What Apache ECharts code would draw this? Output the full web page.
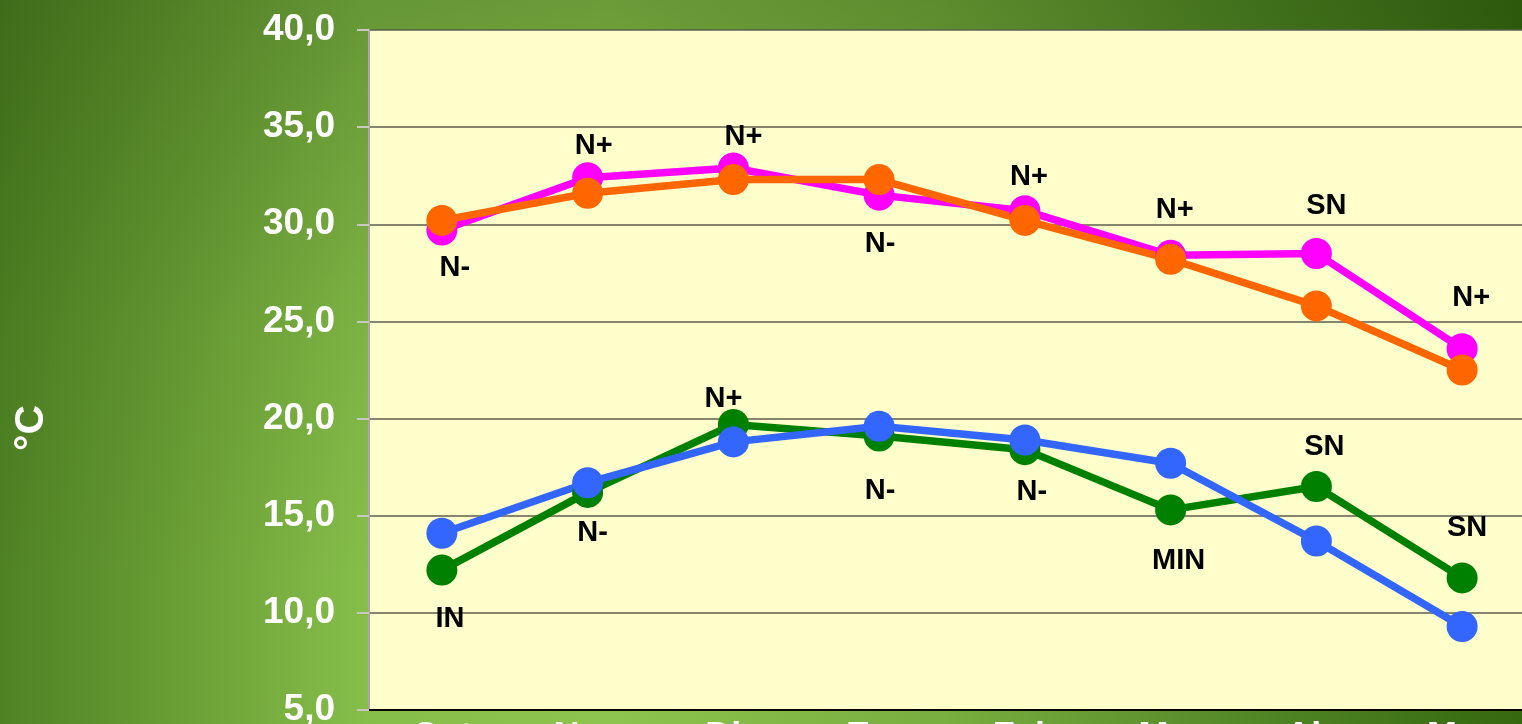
<!DOCTYPE html>
<html>
<head>
<meta charset="utf-8">
<script src="https://cdn.jsdelivr.net/npm/echarts@6/dist/echarts.min.js"></script>
<style>
  html, body { margin: 0; padding: 0; }
  body {
    width: 1522px; height: 724px; overflow: hidden;
    background:
      linear-gradient(to bottom, rgba(20, 50, 0, 0.28) 0%, rgba(20, 50, 0, 0.08) 45%, rgba(0, 0, 0, 0) 80%),
      linear-gradient(to right, #4f8224 0%, #6a9f35 12%, #86be4a 24%, #8cc44d 40%, #78ae3f 62%, #4f8424 84%, #35680f 100%);
  }
  #main { width: 1522px; height: 724px; }
</style>
</head>
<body>
<div id="main"></div>
<script>
// meses (etiquetas del eje x, cortadas abajo en la imagen)
var meses = ['Oct', 'Nov', 'Dic', 'Ene', 'Feb', 'Mar', 'Abr', 'May'];

// temperaturas máximas y mínimas
var maxRosa = [29.7, 32.4, 32.9, 31.5, 30.7, 28.4, 28.5, 23.6];
var maxNaranja = [30.2, 31.6, 32.3, 32.3, 30.2, 28.2, 25.8, 22.5];
var minVerde = [12.2, 16.2, 19.7, 19.1, 18.4, 15.3, 16.5, 11.8];
var minAzul = [14.1, 16.7, 18.8, 19.6, 18.9, 17.7, 13.7, 9.3];

// fase ENSO por mes
var faseMax = ['N-', 'N+', 'N+', 'N-', 'N+', 'N+', 'SN', 'N+'];
var faseMin = ['IN', 'N-', 'N+', 'N-', 'N-', 'MIN', 'SN', 'SN'];

// desplazamiento de las etiquetas (px) respecto al punto
var offMax = [[13, 38], [6, -32], [10, -31], [1, 49], [4, -34], [4, -45], [10, -47], [9, -51]];
var offMin = [[8, 49], [5, 41], [-10, -25], [1, 55], [7, 42], [8, 51], [8, -40], [5, -50]];

var FONT = "'Liberation Sans', Arial, sans-serif";

function withLabels(values, texts, offs) {
    return values.map(function (v, i) {
        return {
            value: v,
            label: {
                show: true,
                position: 'inside',
                offset: offs[i],
                formatter: texts[i],
                color: '#000',
                fontSize: 29,
                fontWeight: 'bold',
                fontFamily: FONT
            }
        };
    });
}

function lineSeries(name, color, data) {
    return {
        name: name,
        type: 'line',
        data: data,
        symbol: 'circle',
        symbolSize: 31,
        lineStyle: { color: color, width: 7.5 },
        itemStyle: { color: color },
        emphasis: { disabled: true },
        animation: false
    };
}

var myChart = echarts.init(document.getElementById('main'));

var option = {
    backgroundColor: 'transparent',
    grid: {
        left: 369,
        top: 30,
        width: 1166,
        height: 680,
        outerBoundsMode: 'none',
        containLabel: false,
        show: true,
        backgroundColor: '#FFFFCC',
        borderWidth: 0
    },
    graphic: [
        {
            type: 'text',
            x: 32,
            y: 428,
            rotation: Math.PI / 2,
            style: {
                text: '°C',
                fill: '#fff',
                font: 'bold 41px ' + FONT,
                textAlign: 'center',
                textVerticalAlign: 'middle'
            }
        }
    ],
    xAxis: {
        type: 'category',
        data: meses,
        boundaryGap: true,
        axisLine: { lineStyle: { color: '#000', width: 2 } },
        axisTick: { show: false },
        axisLabel: {
            color: '#fff',
            fontSize: 36,
            fontWeight: 'bold',
            fontFamily: FONT,
            margin: 10
        }
    },
    yAxis: {
        type: 'value',
        min: 5,
        max: 40,
        interval: 5,
        axisLine: { show: true, lineStyle: { color: '#a8a8a0', width: 2 } },
        axisTick: { show: true, length: 12, lineStyle: { color: '#c8c8c0', width: 2 } },
        splitLine: { show: true, lineStyle: { color: '#5e5e50', width: 1.5 } },
        axisLabel: {
            color: '#fff',
            fontSize: 37,
            fontWeight: 'bold',
            fontFamily: FONT,
            margin: 34,
            formatter: function (v) { return v.toFixed(1).replace('.', ','); }
        }
    },
    series: [
        lineSeries('Máxima N', '#FF00FF', withLabels(maxRosa, faseMax, offMax)),
        lineSeries('Máxima', '#FF6600', maxNaranja),
        lineSeries('Mínima N', '#008000', withLabels(minVerde, faseMin, offMin)),
        lineSeries('Mínima', '#3366FF', minAzul)
    ]
};

myChart.setOption(option);
</script>
</body>
</html>
